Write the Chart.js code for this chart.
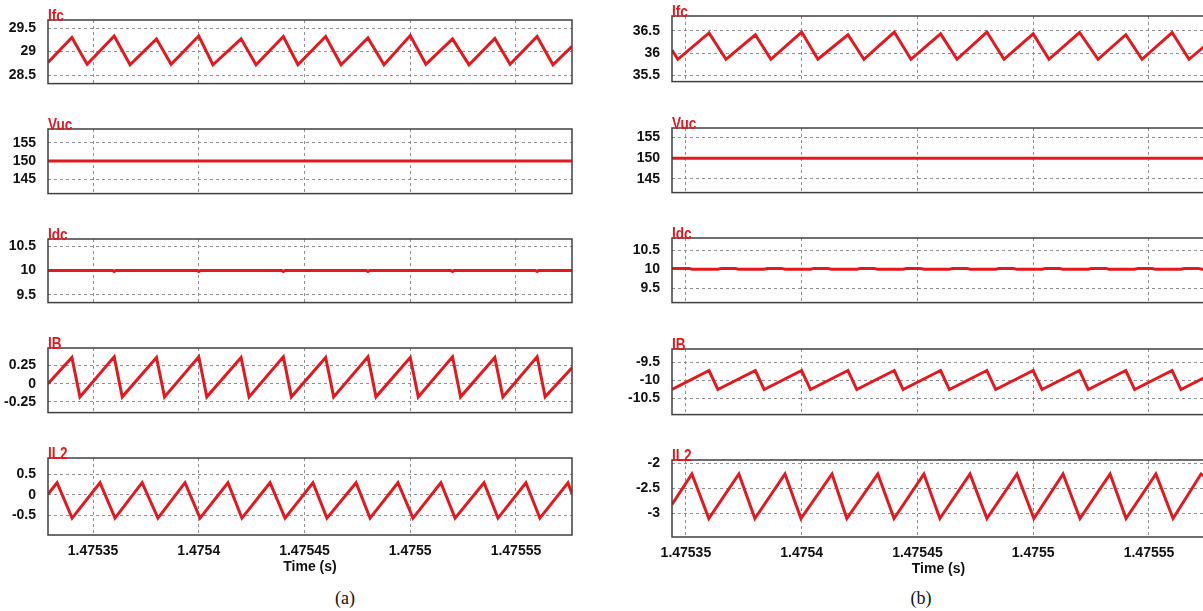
<!DOCTYPE html>
<html>
<head>
<meta charset="utf-8">
<script src="https://cdn.jsdelivr.net/npm/chart.js@4.4.0/dist/chart.umd.min.js"></script>
<style>
  html, body { margin: 0; padding: 0; background: #fff; }
  #wrap { position: relative; width: 1203px; height: 611px; overflow: hidden; }
  canvas { position: absolute; }
  .cap { position: absolute; width: 60px; margin-left: -30px; text-align: center;
         font-family: "Liberation Serif", "Times New Roman", serif; font-size: 18px; line-height: 20px; color: #111; }
</style>
</head>
<body>
<div id="wrap">
  <div class="cap" style="left:345px;top:588px">(a)</div>
  <div class="cap" style="left:921px;top:588px">(b)</div>
</div>
<script>
const RED = '#e3191f';

// time axis
const xTicks = [1.47535, 1.4754, 1.47545, 1.4755, 1.47555];
const xTickLabels = ['1.47535', '1.4754', '1.47545', '1.4755', '1.47555'];
const xRangeA = [1.4753287, 1.4755765];
const xRangeB = [1.475344, 1.4755742];

// (a) traces
const ifcA_t = [1.4753287, 1.47534, 1.4753472, 1.47536, 1.4753675, 1.47538, 1.4753869, 1.4754, 1.4754067, 1.47542, 1.4754271, 1.47544, 1.4754469,
  1.47546, 1.4754673, 1.47548, 1.4754876, 1.4755, 1.4755074, 1.47552, 1.4755278, 1.47554, 1.4755472, 1.47556, 1.4755675, 1.4755765];
const ifcA_v = [28.77, 29.30, 28.73, 29.33, 28.72, 29.27, 28.73, 29.33, 28.72, 29.27, 28.72, 29.32, 28.72,
  29.32, 28.72, 29.29, 28.72, 29.34, 28.73, 29.27, 28.72, 29.28, 28.73, 29.32, 28.72, 29.11];

const vucA_t = [1.4753287, 1.4755765];
const vucA_v = [150, 150];

const idcA_t = [1.4753287, 1.4753592, 1.47536, 1.4753608, 1.4753992, 1.4754, 1.4754008, 1.4754392, 1.47544, 1.4754408,
  1.4754792, 1.47548, 1.4754808, 1.4755192, 1.47552, 1.4755208, 1.4755592, 1.47556, 1.4755608, 1.4755765];
const idcA_v = [10, 10, 9.98, 10, 10, 9.98, 10, 10, 9.98, 10, 10, 9.98, 10, 10, 9.98, 10, 10, 9.98, 10, 10];

const ibA_t = [1.4753287, 1.47534, 1.4753438, 1.47536, 1.4753638, 1.47538, 1.4753838, 1.4754, 1.4754038, 1.47542, 1.4754238, 1.47544, 1.4754438,
  1.47546, 1.4754638, 1.47548, 1.4754838, 1.4755, 1.4755038, 1.47552, 1.4755238, 1.47554, 1.4755438, 1.47556, 1.4755638, 1.4755765];
const ibA_v = [0.0, 0.36, -0.18, 0.37, -0.18, 0.36, -0.18, 0.37, -0.18, 0.36, -0.18, 0.37, -0.18,
  0.36, -0.18, 0.37, -0.18, 0.36, -0.18, 0.37, -0.18, 0.36, -0.18, 0.37, -0.18, 0.22];

const il2A_t = [1.4753287, 1.475333, 1.4753401, 1.4753533, 1.4753604, 1.4753732, 1.4753807, 1.4753935, 1.4754006, 1.4754138, 1.4754204,
  1.4754337, 1.4754408, 1.475454, 1.4754606, 1.4754744, 1.475481, 1.4754942, 1.4755013, 1.4755145, 1.4755212, 1.4755349, 1.4755415,
  1.4755547, 1.4755613, 1.4755746, 1.4755765];
const il2A_v = [0.01, 0.29, -0.57, 0.29, -0.57, 0.29, -0.57, 0.29, -0.57, 0.29, -0.57,
  0.29, -0.57, 0.29, -0.57, 0.29, -0.57, 0.29, -0.57, 0.29, -0.57, 0.29, -0.57,
  0.29, -0.57, 0.29, 0.02];

// (b) traces
const ifcB_t = [1.475344, 1.4753465, 1.47536, 1.4753673, 1.47538, 1.4753867, 1.4754, 1.475407, 1.47542, 1.4754269, 1.47544, 1.4754472,
  1.47546, 1.4754671, 1.47548, 1.4754874, 1.4755, 1.4755068, 1.47552, 1.475528, 1.47554, 1.475547, 1.47556, 1.4755673, 1.4755742];
const ifcB_v = [36.07, 35.86, 36.45, 35.86, 36.41, 35.86, 36.47, 35.86, 36.41, 35.86, 36.47, 35.86,
  36.43, 35.86, 36.47, 35.86, 36.43, 35.86, 36.46, 35.86, 36.41, 35.86, 36.46, 35.86, 36.16];

const vucB_t = [1.475344, 1.4755742];
const vucB_v = [150, 150];

const idcB_t = [1.475344, 1.4753513, 1.4753528,
  1.4753638, 1.4753653, 1.4753713, 1.4753728,
  1.4753838, 1.4753853, 1.4753913, 1.4753928,
  1.4754038, 1.4754053, 1.4754113, 1.4754128,
  1.4754238, 1.4754253, 1.4754313, 1.4754328,
  1.4754438, 1.4754453, 1.4754513, 1.4754528,
  1.4754638, 1.4754653, 1.4754713, 1.4754728,
  1.4754838, 1.4754853, 1.4754913, 1.4754928,
  1.4755038, 1.4755053, 1.4755113, 1.4755128,
  1.4755238, 1.4755253, 1.4755313, 1.4755328,
  1.4755438, 1.4755453, 1.4755513, 1.4755528,
  1.4755638, 1.4755653, 1.4755713, 1.4755728,
  1.4755742];
const idcB_v = [10.02, 10.02, 10,
  10, 10.02, 10.02, 10,
  10, 10.02, 10.02, 10,
  10, 10.02, 10.02, 10,
  10, 10.02, 10.02, 10,
  10, 10.02, 10.02, 10,
  10, 10.02, 10.02, 10,
  10, 10.02, 10.02, 10,
  10, 10.02, 10.02, 10,
  10, 10.02, 10.02, 10,
  10, 10.02, 10.02, 10,
  10, 10.02, 10.02, 10,
  10];

const ibB_t = [1.475344, 1.47536, 1.4753638, 1.47538, 1.4753838, 1.4754, 1.4754038, 1.47542, 1.4754238, 1.47544, 1.4754438, 1.47546,
  1.4754638, 1.47548, 1.4754838, 1.4755, 1.4755038, 1.47552, 1.4755238, 1.47554, 1.4755438, 1.47556, 1.4755638, 1.4755742];
const ibB_v = [-10.25, -9.72, -10.25, -9.72, -10.25, -9.72, -10.25, -9.72, -10.25, -9.72, -10.25, -9.72,
  -10.25, -9.72, -10.25, -9.72, -10.25, -9.72, -10.25, -9.72, -10.25, -9.72, -10.25, -9.91];

const il2B_t = [1.475344, 1.4753526, 1.4753599, 1.4753729, 1.4753798, 1.4753928, 1.4753997, 1.4754131, 1.4754195, 1.4754329, 1.4754399,
  1.4754528, 1.4754597, 1.4754727, 1.47548, 1.475493, 1.4755003, 1.4755129, 1.4755202, 1.4755332, 1.4755401, 1.475553, 1.4755604,
  1.4755725, 1.4755742];
const il2B_v = [-2.82, -2.21, -3.10, -2.21, -3.10, -2.21, -3.10, -2.21, -3.10, -2.21, -3.10,
  -2.21, -3.10, -2.21, -3.10, -2.21, -3.10, -2.21, -3.10, -2.21, -3.10, -2.21, -3.10,
  -2.21, -2.26];

// y ticks
const ifcA_ticks = [28.5, 29, 29.5], ifcA_labels = ['28.5', '29', '29.5'];
const vuc_ticks = [145, 150, 155], vuc_labels = ['145', '150', '155'];
const idc_ticks = [9.5, 10, 10.5], idc_labels = ['9.5', '10', '10.5'];
const ibA_ticks = [-0.25, 0, 0.25], ibA_labels = ['-0.25', '0', '0.25'];
const il2A_ticks = [-0.5, 0, 0.5], il2A_labels = ['-0.5', '0', '0.5'];
const ifcB_ticks = [35.5, 36, 36.5], ifcB_labels = ['35.5', '36', '36.5'];
const ibB_ticks = [-10.5, -10, -9.5], ibB_labels = ['-10.5', '-10', '-9.5'];
const il2B_ticks = [-3, -2.5, -2], il2B_labels = ['-3', '-2.5', '-2'];

// box round the plot area + red trace name above it (condensed bold)
const frame = {
  id: 'frame',
  afterDraw(c, args, o) {
    const { ctx, chartArea: a } = c;
    ctx.save();
    ctx.strokeStyle = '#404040';
    ctx.lineWidth = 1.5;
    ctx.strokeRect(a.left, a.top, a.right - a.left, a.bottom - a.top);
    ctx.translate(a.left, a.top + 1);
    ctx.scale(0.8, 1);
    ctx.fillStyle = RED;
    ctx.font = 'bold 17px "Liberation Sans", Arial, sans-serif';
    ctx.textBaseline = 'alphabetic';
    ctx.textAlign = 'left';
    ctx.fillText(o.name, 0, 0);
    ctx.restore();
  }
};

const cols = {
  a: { canvasLeft: 0, axisW: 48, right: 572, range: xRangeA },
  b: { canvasLeft: 600, axisW: 72, right: 1205, range: xRangeB }
};

function panel(name, col, box, t, v, yMin, yMax, yTicks, yLabels, bottom) {
  const c = cols[col];
  const padTop = 22, padRight = 6;
  const xH = bottom ? 41 : 0;
  const padBottom = bottom ? 0 : 4;
  const w = c.right - c.canvasLeft + padRight;
  const h = padTop + (box[1] - box[0]) + xH + padBottom;
  const cv = document.createElement('canvas');
  cv.width = w; cv.height = h;
  cv.style.left = c.canvasLeft + 'px';
  cv.style.top = (box[0] - padTop) + 'px';
  cv.style.width = w + 'px'; cv.style.height = h + 'px';
  document.getElementById('wrap').appendChild(cv);

  const tickFont = { family: '"Liberation Sans", Arial, sans-serif', size: 14, weight: 'bold' };
  new Chart(cv, {
    type: 'line',
    data: {
      datasets: [{
        data: t.map((x, i) => ({ x: x, y: v[i] })),
        borderColor: RED,
        borderWidth: 3,
        pointRadius: 0,
        tension: 0,
        fill: false
      }]
    },
    options: {
      responsive: false,
      animation: false,
      events: [],
      layout: { padding: { top: padTop, right: padRight, bottom: padBottom, left: 0 } },
      plugins: { legend: { display: false }, tooltip: { enabled: false }, frame: { name: name } },
      scales: {
        x: {
          type: 'linear',
          min: c.range[0], max: c.range[1],
          afterBuildTicks: s => { s.ticks = xTicks.map(x => ({ value: x })); },
          afterFit: s => { s.height = xH; },
          grid: { color: '#8f8f8f', lineWidth: 1, drawTicks: false },
          border: { display: false, dash: [3, 3] },
          ticks: {
            display: bottom, padding: 8, color: '#111', font: tickFont,
            maxRotation: 0, autoSkip: false,
            callback: (val, i) => xTickLabels[i]
          },
          title: {
            display: bottom, text: 'Time (s)', color: '#111',
            font: tickFont, padding: { top: 0, bottom: 0 }
          }
        },
        y: {
          min: yMin, max: yMax,
          afterBuildTicks: s => { s.ticks = yTicks.map(y => ({ value: y })); },
          afterFit: s => { s.width = c.axisW; },
          grid: { color: '#8f8f8f', lineWidth: 1, drawTicks: false },
          border: { display: false, dash: [3, 3] },
          ticks: { padding: 12, color: '#111', font: tickFont, callback: (val, i) => yLabels[i] }
        }
      }
    },
    plugins: [frame]
  });
}

panel('Ifc', 'a', [20, 100], ifcA_t, ifcA_v, 28.32, 29.67, ifcA_ticks, ifcA_labels, false);
panel('Vuc', 'a', [129, 210], vucA_t, vucA_v, 141.2, 158.7, vuc_ticks, vuc_labels, false);
panel('Idc', 'a', [239, 319], idcA_t, idcA_v, 9.34, 10.65, idc_ticks, idc_labels, false);
panel('IB', 'a', [348, 429], ibA_t, ibA_v, -0.396, 0.49, ibA_ticks, ibA_labels, false);
panel('IL2', 'a', [458, 535], il2A_t, il2A_v, -0.98, 0.89, il2A_ticks, il2A_labels, true);

panel('Ifc', 'b', [16, 98], ifcB_t, ifcB_v, 35.36, 36.83, ifcB_ticks, ifcB_labels, false);
panel('Vuc', 'b', [128, 209], vucB_t, vucB_v, 141.65, 157.3, vuc_ticks, vuc_labels, false);
panel('Idc', 'b', [238, 319], idcB_t, idcB_v, 9.12, 10.82, idc_ticks, idc_labels, false);
panel('IB', 'b', [349, 431], ibB_t, ibB_v, -10.95, -9.12, ibB_ticks, ibB_labels, false);
panel('IL2', 'b', [460, 537], il2B_t, il2B_v, -3.47, -1.93, il2B_ticks, il2B_labels, true);
</script>
</body>
</html>
